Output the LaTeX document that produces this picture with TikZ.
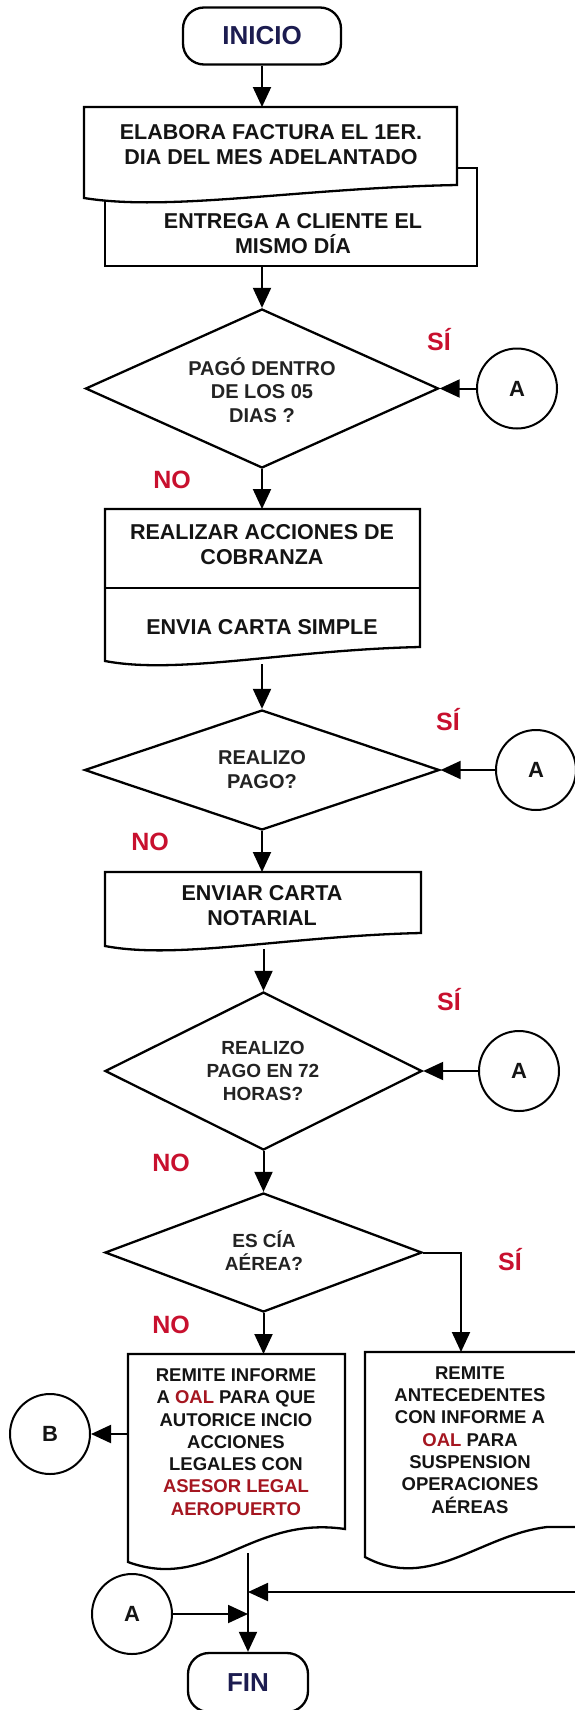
\documentclass[tikz,border=0pt]{standalone}
\usepackage{fontspec}
\setmainfont{Liberation Sans}
\usetikzlibrary{shapes.geometric,arrows.meta}
\definecolor{labred}{RGB}{200,16,46}
\definecolor{oalred}{RGB}{165,22,32}
\definecolor{navy}{RGB}{28,28,80}
\definecolor{ink}{RGB}{20,20,20}
\definecolor{dink}{RGB}{35,35,35}
\begin{document}
\begin{tikzpicture}[x=1pt,y=-1pt,
  shp/.style={draw=black, line width=2.3pt, fill=white, line join=miter},
  arr/.style={draw=black, line width=2pt, -{Triangle[length=20pt,width=18pt]}},
  lne/.style={draw=black, line width=2.3pt},
  tb/.style={font=\bfseries\fontsize{21.5}{25}\selectfont, align=center, text=ink, inner sep=0pt},
  td/.style={font=\bfseries\fontsize{20}{23.5}\selectfont, align=center, text=dink, inner sep=0pt},
  tdd/.style={font=\bfseries\fontsize{19}{23}\selectfont, align=center, text=dink, inner sep=0pt},
  ts/.style={font=\bfseries\fontsize{18.5}{22.3}\selectfont, align=center, text=ink, inner sep=0pt},
  lab/.style={font=\bfseries\fontsize{25}{28}\selectfont, text=labred, inner sep=0pt},
  conn/.style={circle, draw=black, line width=2pt, fill=white, minimum size=80pt, inner sep=0pt, font=\bfseries\fontsize{22}{24}\selectfont, text=ink},
  term/.style={rectangle, draw=black, line width=2.3pt, rounded corners=21pt, fill=white, inner sep=0pt, font=\bfseries\fontsize{26}{28}\selectfont, text=navy},
  dia/.style={diamond, draw=black, line width=2.3pt, fill=white, inner sep=0pt}
]
\useasboundingbox (0,0) rectangle (575,1710);
\clip (0,0) rectangle (575,1710);
\fill[white] (0,0) rectangle (575,1710);

% INICIO
\node[term, minimum width=158pt, minimum height=57pt] (ini) at (262,36) {INICIO};

% Box 2 (behind) and Box 1
\path[shp] (105,168) rectangle (477,266);
\path[shp] (84,107) -- (457,107) -- (457,185) .. controls (300,188) and (170,212) .. (84,198) -- cycle;
\node[tb] (t1) at (271,144.5) {ELABORA FACTURA EL 1ER.\\DIA DEL MES ADELANTADO};
\node[tb] (t2) at (293,233.5) {ENTREGA A CLIENTE EL\\MISMO DÍA};
\coordinate (b1n) at (262,107);
\draw[arr] (ini) -- (b1n);

% Decision 1
\coordinate (b2s) at (262,266);
\node[dia, minimum width=353pt, minimum height=159pt] (d1) at (262,388.5) {};
\node[td] (t3) at (262,390) {PAGÓ DENTRO\\DE LOS 05\\DIAS ?};
\draw[arr] (b2s) -- (d1.north);
\node[lab] (si1) at (439,340) {SÍ};
\node[conn] (a1) at (517,388.5) {A};
\draw[arr] (a1) -- (d1.east);
\node[lab] (no1) at (172,480) {NO};

% Box 3
\path[shp] (105,509) -- (420,509) -- (420,647) .. controls (287,650) and (178,675) .. (105,661) -- cycle;
\draw[lne] (105,588) -- (420,588);
\node[tb] (t4) at (262,544.5) {REALIZAR ACCIONES DE\\COBRANZA};
\node[tb] (t5) at (262,627) {ENVIA CARTA SIMPLE};
\coordinate (b3n) at (262,509);
\draw[arr] (d1.south) -- (b3n);

% Decision 2
\coordinate (b3s) at (262,664);
\node[dia, minimum width=355pt, minimum height=120pt] (d2) at (262,770) {};
\node[td] (t6) at (262,769.5) {REALIZO\\PAGO?};
\draw[arr] (b3s) -- (d2.north);
\node[lab] (si2) at (448,720) {SÍ};
\node[conn] (a2) at (536,770) {A};
\draw[arr] (a2) -- (d2.east);
\node[lab] (no2) at (150,842) {NO};

% Box 4
\path[shp] (105,872) -- (421,872) -- (421,933) .. controls (288,936) and (178,960) .. (105,946) -- cycle;
\node[tb] (t7) at (262,905.5) {ENVIAR CARTA\\NOTARIAL};
\coordinate (b4n) at (262,872);
\draw[arr] (d2.south) -- (b4n);

% Decision 3
\coordinate (b4s) at (263.5,949);
\node[dia, minimum width=317pt, minimum height=158pt] (d3) at (263.5,1071) {};
\node[tdd] (t8) at (263,1070.5) {REALIZO\\PAGO EN 72\\HORAS?};
\draw[arr] (b4s) -- (d3.north);
\node[lab] (si3) at (449,1000) {SÍ};
\node[conn] (a3) at (519,1071) {A};
\draw[arr] (a3) -- (d3.east);
\node[lab] (no3) at (171,1163) {NO};

% Decision 4
\node[dia, minimum width=317pt, minimum height=119pt] (d4) at (263.5,1252.5) {};
\node[tdd] (t9) at (264,1251) {ES CÍA\\AÉREA?};
\draw[arr] (d3.south) -- (d4.north);
\node[lab] (si4) at (510,1260) {SÍ};
\node[lab] (no4) at (171,1325) {NO};

% Box 5
\path[shp] (128,1354) -- (345,1354) -- (345,1529) .. controls (250,1515) and (210,1592) .. (128,1562) -- cycle;
\node[ts] (t10) at (236,1442) {REMITE INFORME\\A \textcolor{oalred}{OAL} PARA QUE\\AUTORICE INCIO\\ACCIONES\\LEGALES CON\\\textcolor{oalred}{ASESOR LEGAL}\\\textcolor{oalred}{AEROPUERTO}};
\coordinate (b5n) at (263.5,1354);
\draw[arr] (d4.south) -- (b5n);

% Box 6
\path[shp] (365,1352) -- (580,1352) -- (580,1527) -- (547,1527) .. controls (480,1535) and (430,1592) .. (365,1557) -- cycle;
\node[ts] (t11) at (470,1440) {REMITE\\ANTECEDENTES\\CON INFORME A\\\textcolor{oalred}{OAL} PARA\\SUSPENSION\\OPERACIONES\\AÉREAS};
\coordinate (b6n) at (461,1352);
\draw[arr] (d4.east) -| (b6n);

% Connector B
\node[conn] (cb) at (50,1434) {B};
\coordinate (b5w) at (128,1434);
\draw[arr] (b5w) -- (cb);

% Junction and FIN
\coordinate (b5s) at (248,1553);
\node[term, minimum width=120pt, minimum height=59pt] (fin) at (248,1682.5) {FIN};
\draw[arr] (b5s) -- (fin.north);
\coordinate (rin) at (580,1592);
\coordinate (j1) at (248,1592);
\draw[arr] (rin) -- (j1);
\node[conn] (a4) at (132,1614) {A};
\coordinate (j2) at (248,1614);
\draw[arr] (a4) -- (j2);
\end{tikzpicture}
\end{document}
